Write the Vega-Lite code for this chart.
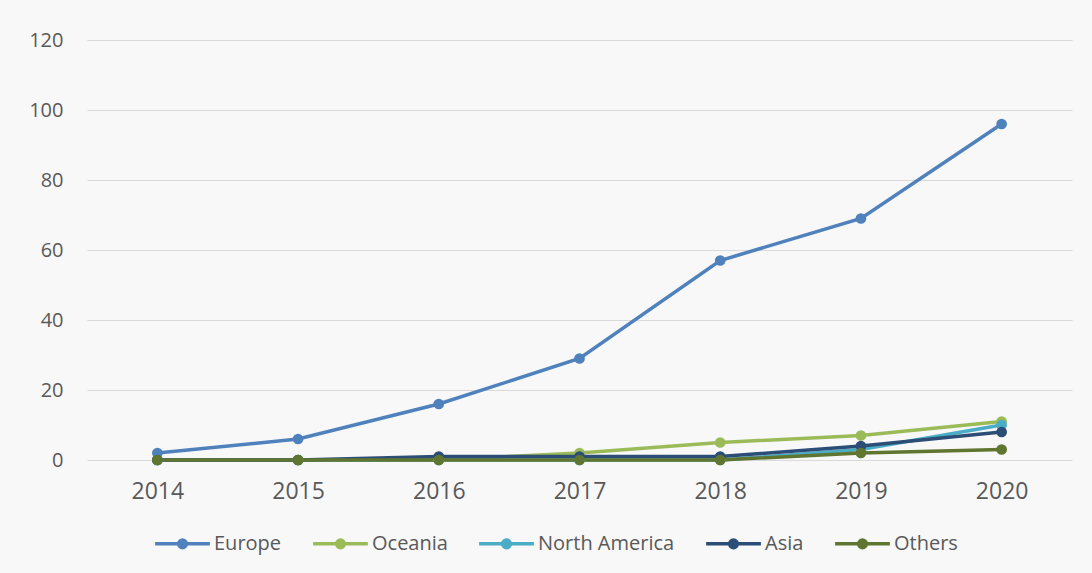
{
  "$schema": "https://vega.github.io/schema/vega-lite/v6.json",
  "width": 985,
  "height": 420,
  "autosize": {"type": "none"},
  "padding": {"left": 87, "top": 40, "right": 20, "bottom": 113},
  "background": "#f8f8f8",
  "data": {"values": [
    {"year": "2014", "region": "Europe", "count": 2},
    {"year": "2015", "region": "Europe", "count": 6},
    {"year": "2016", "region": "Europe", "count": 16},
    {"year": "2017", "region": "Europe", "count": 29},
    {"year": "2018", "region": "Europe", "count": 57},
    {"year": "2019", "region": "Europe", "count": 69},
    {"year": "2020", "region": "Europe", "count": 96},
    {"year": "2014", "region": "Oceania", "count": 0},
    {"year": "2015", "region": "Oceania", "count": 0},
    {"year": "2016", "region": "Oceania", "count": 0},
    {"year": "2017", "region": "Oceania", "count": 2},
    {"year": "2018", "region": "Oceania", "count": 5},
    {"year": "2019", "region": "Oceania", "count": 7},
    {"year": "2020", "region": "Oceania", "count": 11},
    {"year": "2014", "region": "North America", "count": 0},
    {"year": "2015", "region": "North America", "count": 0},
    {"year": "2016", "region": "North America", "count": 0},
    {"year": "2017", "region": "North America", "count": 0},
    {"year": "2018", "region": "North America", "count": 0},
    {"year": "2019", "region": "North America", "count": 3},
    {"year": "2020", "region": "North America", "count": 10},
    {"year": "2014", "region": "Asia", "count": 0},
    {"year": "2015", "region": "Asia", "count": 0},
    {"year": "2016", "region": "Asia", "count": 1},
    {"year": "2017", "region": "Asia", "count": 1},
    {"year": "2018", "region": "Asia", "count": 1},
    {"year": "2019", "region": "Asia", "count": 4},
    {"year": "2020", "region": "Asia", "count": 8},
    {"year": "2014", "region": "Others", "count": 0},
    {"year": "2015", "region": "Others", "count": 0},
    {"year": "2016", "region": "Others", "count": 0},
    {"year": "2017", "region": "Others", "count": 0},
    {"year": "2018", "region": "Others", "count": 0},
    {"year": "2019", "region": "Others", "count": 2},
    {"year": "2020", "region": "Others", "count": 3}
  ]},
  "mark": {"type": "line", "strokeWidth": 3.5, "point": {"filled": true, "size": 115, "opacity": 1}},
  "encoding": {
    "x": {
      "field": "year", "type": "ordinal",
      "scale": {"type": "point", "padding": 0.5},
      "axis": {"title": null, "labelAngle": 0, "labelFontSize": 23, "labelColor": "#595959", "labelFont": "Open Sans", "domain": false, "ticks": false, "labelPadding": 20, "grid": false}
    },
    "y": {
      "field": "count", "type": "quantitative",
      "scale": {"domain": [0, 120]},
      "axis": {"title": null, "values": [0, 20, 40, 60, 80, 100, 120], "labelFontSize": 20, "labelColor": "#595959", "labelFont": "Open Sans", "domain": false, "ticks": false, "labelPadding": 24, "gridColor": "#d9d9d9", "gridWidth": 1}
    },
    "color": {
      "field": "region", "type": "nominal",
      "scale": {"domain": ["Europe", "Oceania", "North America", "Asia", "Others"], "range": ["#4f81bd", "#9bbb59", "#4bacc6", "#2c4d75", "#5f7530"]},
      "legend": {
        "title": null, "orient": "none", "legendX": 66, "legendY": 474, "direction": "horizontal",
        "symbolType": "M-1,0H1M-0.14,0A0.14,0.14 0 1,1 0.14,0A0.14,0.14 0 1,1 -0.14,0",
        "symbolSize": 3000, "symbolStrokeWidth": 3.5,
        "labelFontSize": 20, "labelColor": "#595959", "labelFont": "Open Sans", "labelOffset": 2,
        "columnPadding": 24,
        "encode": {"symbols": {"update": {"fill": {"scale": "color", "field": "value"}, "opacity": {"value": 1}}}}
      }
    },
    "order": {"field": "year"}
  },
  "config": {"view": {"stroke": null}}
}
